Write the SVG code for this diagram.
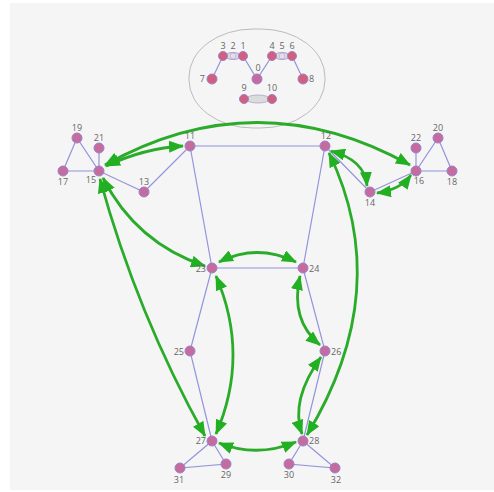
<svg xmlns="http://www.w3.org/2000/svg" width="494" height="492" viewBox="0 0 494 492">
<defs>
<style>
.e{stroke:#9494dc;stroke-width:1.2;fill:none}
.n{fill:#c46c9e;stroke:#9b80cc;stroke-width:1}
.fn{fill:#d0607e;stroke:#a080cc;stroke-width:1}
.g{stroke:#2aab2a;stroke-width:2.8;fill:none;marker-start:url(#ah);marker-end:url(#ah)}
text{font-family:"Open Sans","Liberation Sans",sans-serif;font-size:9px;fill:#666}
.m{text-anchor:middle}.r{text-anchor:end}
</style>
<marker id="ah" viewBox="0 0 15 12" refX="14" refY="6" markerWidth="15" markerHeight="12" markerUnits="userSpaceOnUse" orient="auto-start-reverse">
<path d="M0,0 L15,6 L0,12 z" fill="#22b022"/>
</marker>
</defs>
<rect x="10" y="3" width="484" height="487" fill="#f5f5f5"/>
<g id="head">
<rect x="189" y="29" width="136" height="99" rx="64" ry="48" fill="#f5f5f5" stroke="#bbbbbb" stroke-width="1"/>
</g>
<g id="edges">
<path class="e" d="M223,56 L212,79 M243,56 L257,79 L272,56 M292,56 L303,79 M223,56 L243,56 M272,56 L292,56 M244,99 L272,99"/>
<path class="e" d="M190,146 L325,146 M190,146 L144,192 L99,171 L63,171 L77,138 L99,171 L99,148"/>
<path class="e" d="M325,146 L370,192 L416,171 L452,171 L438,138 L416,171 L416,148"/>
<path class="e" d="M190,146 L212,268 M325,146 L303,268 M212,268 L303,268 M212,268 L190,351 L212,441 M303,268 L325,351 L303,441"/>
<path class="e" d="M212,441 L226,464 L180,468 Z M303,441 L289,464 L335,468 Z"/>
</g>
<g id="connectors">
<path class="g" d="M105,165 Q257,80 410,165"/>
<path class="g" d="M106,166 Q145,148 183,146"/>
<path class="g" d="M331,151 Q365,160 367,186"/>
<path class="g" d="M377,193 Q400,190 411,175"/>
<path class="g" d="M329,153 Q395,290 307,435"/>
<path class="g" d="M103,178 Q136,243 205,266"/>
<path class="g" d="M100,179 Q137,314 205,436"/>
<path class="g" d="M219,262 Q257,243 296,262"/>
<path class="g" d="M216,276 Q250,355 216,434"/>
<path class="g" d="M300,276 Q290,320 320,345"/>
<path class="g" d="M321,357 Q290,400 302,434"/>
<path class="g" d="M219,443 Q257,458 296,442"/>
</g>
<g id="eye-l"><ellipse cx="233" cy="56" rx="8" ry="3.5" fill="#dcdcdc" stroke="#a090d0" stroke-width="0.8"/></g>
<g id="eye-r"><ellipse cx="282" cy="56" rx="8" ry="3.5" fill="#dcdcdc" stroke="#a090d0" stroke-width="0.8"/></g>
<g id="mouth"><ellipse cx="258" cy="99" rx="12" ry="4" fill="#dcdcdc" stroke="#b0a0d0" stroke-width="0.8"/></g>
<g id="n0"><circle class="n" cx="257" cy="79" r="5"/><text class="m" x="258" y="71">0</text></g>
<g id="n1"><circle class="fn" cx="243" cy="56" r="4.5"/><text class="m" x="243" y="49">1</text></g>
<g id="n2"><circle cx="233" cy="56" r="3" fill="#e4dde8" stroke="#b0a0d0" stroke-width="0.6"/><text class="m" x="233" y="49">2</text></g>
<g id="n3"><circle class="fn" cx="223" cy="56" r="4.5"/><text class="m" x="223" y="49">3</text></g>
<g id="n4"><circle class="fn" cx="272" cy="56" r="4.5"/><text class="m" x="272" y="49">4</text></g>
<g id="n5"><circle cx="282" cy="56" r="3" fill="#e4dde8" stroke="#b0a0d0" stroke-width="0.6"/><text class="m" x="282" y="49">5</text></g>
<g id="n6"><circle class="fn" cx="292" cy="56" r="4.5"/><text class="m" x="292" y="49">6</text></g>
<g id="n7"><circle class="fn" cx="212" cy="79" r="5"/><text class="r" x="205" y="82">7</text></g>
<g id="n8"><circle class="fn" cx="303" cy="79" r="5"/><text x="309" y="82">8</text></g>
<g id="n9"><circle class="fn" cx="244" cy="99" r="4.5"/><text class="m" x="244" y="91">9</text></g>
<g id="n10"><circle class="fn" cx="272" cy="99" r="4.5"/><text class="m" x="272" y="91">10</text></g>
<g id="n11"><circle class="n" cx="190" cy="146" r="5"/><text class="m" x="190" y="139">11</text></g>
<g id="n12"><circle class="n" cx="325" cy="146" r="5"/><text class="m" x="326" y="139">12</text></g>
<g id="n13"><circle class="n" cx="144" cy="192" r="5"/><text class="m" x="144" y="185">13</text></g>
<g id="n14"><circle class="n" cx="370" cy="192" r="5"/><text class="m" x="370" y="206">14</text></g>
<g id="n15"><circle class="n" cx="99" cy="171" r="5"/><text class="m" x="91" y="183">15</text></g>
<g id="n16"><circle class="n" cx="416" cy="171" r="5"/><text class="m" x="419" y="184">16</text></g>
<g id="n17"><circle class="n" cx="63" cy="171" r="5"/><text class="m" x="63" y="185">17</text></g>
<g id="n18"><circle class="n" cx="452" cy="171" r="5"/><text class="m" x="452" y="185">18</text></g>
<g id="n19"><circle class="n" cx="77" cy="138" r="5"/><text class="m" x="77" y="131">19</text></g>
<g id="n20"><circle class="n" cx="438" cy="138" r="5"/><text class="m" x="438" y="131">20</text></g>
<g id="n21"><circle class="n" cx="99" cy="148" r="5"/><text class="m" x="99" y="141">21</text></g>
<g id="n22"><circle class="n" cx="416" cy="148" r="5"/><text class="m" x="416" y="141">22</text></g>
<g id="n23"><circle class="n" cx="212" cy="268" r="5"/><text class="r" x="206" y="272">23</text></g>
<g id="n24"><circle class="n" cx="303" cy="268" r="5"/><text x="309" y="272">24</text></g>
<g id="n25"><circle class="n" cx="190" cy="351" r="5"/><text class="r" x="184" y="355">25</text></g>
<g id="n26"><circle class="n" cx="325" cy="351" r="5"/><text x="331" y="355">26</text></g>
<g id="n27"><circle class="n" cx="212" cy="441" r="5"/><text class="r" x="206" y="444">27</text></g>
<g id="n28"><circle class="n" cx="303" cy="441" r="5"/><text x="309" y="444">28</text></g>
<g id="n29"><circle class="n" cx="226" cy="464" r="5"/><text class="m" x="226" y="478">29</text></g>
<g id="n30"><circle class="n" cx="289" cy="464" r="5"/><text class="m" x="289" y="478">30</text></g>
<g id="n31"><circle class="n" cx="180" cy="468" r="5"/><text class="m" x="179" y="483">31</text></g>
<g id="n32"><circle class="n" cx="335" cy="468" r="5"/><text class="m" x="336" y="483">32</text></g>
</svg>
